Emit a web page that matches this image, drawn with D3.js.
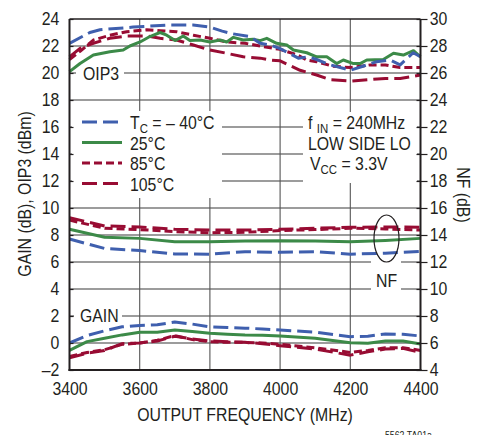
<!DOCTYPE html>
<html><head><meta charset="utf-8">
<script src="https://cdn.jsdelivr.net/npm/d3@7"></script>
<style>
html,body{margin:0;padding:0;background:#fff;}
svg text{font-family:"Liberation Sans",Arial,sans-serif;fill:#231f20;}
</style></head>
<body><svg id="c" width="482" height="435"></svg>
<script>
// ---- data ----
const xTicks = [3400, 3600, 3800, 4000, 4200, 4400];
const yLeftTicks = [-2, 0, 2, 4, 6, 8, 10, 12, 14, 16, 18, 20, 22, 24];
const yRightTicks = [4, 6, 8, 10, 12, 14, 16, 18, 20, 22, 24, 26, 28, 30];
const seriesNames = ["TC = \u2013 40°C", "25°C", "85°C", "105°C"];

// OIP3 (dBm, left axis)
const oip3FreqM40 = [3400,3458,3487,3581,3678,3752,3800,3835,3866,3914,3943,3972,4000,4052,4080,4104,4143,4200,4236,4275,4313,4342,4379,4400];
const oip3M40     = [22.2,23.0,23.2,23.4,23.55,23.55,23.4,23.1,22.9,22.7,22.2,22.07,21.8,21.1,21.2,21.0,20.6,20.2,20.5,20.84,20.96,20.6,21.5,21.2];
const oip3Freq25  = [3400,3430,3468,3515,3553,3572,3601,3629,3658,3677,3701,3724,3743,3772,3800,3829,3848,3867,3895,3923,3943,3962,3990,4019,4038,4076,4104,4133,4161,4180,4209,4228,4247,4294,4323,4351,4380,4400];
const oip325      = [20.1,20.7,21.33,21.58,21.7,22.0,22.3,22.7,23.0,22.8,22.4,22.74,22.4,22.44,22.3,22.44,22.3,22.64,22.44,22.5,22.4,22.57,22.2,22.07,21.7,21.5,21.2,21.2,20.7,20.96,20.7,20.7,20.96,21.0,21.46,21.33,21.65,21.2];
const oip3Freq85  = [3400,3430,3468,3515,3563,3620,3658,3705,3753,3800,3848,3900,3943,4000,4050,4076,4104,4150,4200,4257,4300,4342,4400];
const oip385      = [21.0,21.6,22.44,22.8,23.06,23.2,23.13,23.06,22.8,22.57,22.3,22.2,22.0,21.75,21.33,20.96,20.84,20.5,20.4,20.6,20.6,20.4,20.4];
const oip3Freq105 = [3400,3430,3468,3515,3563,3620,3658,3705,3753,3800,3848,3895,3943,3972,4000,4057,4104,4143,4200,4250,4300,4342,4400];
const oip3105     = [21.2,21.83,22.2,22.57,22.74,22.74,22.57,22.44,22.07,21.7,21.46,21.2,21.1,20.96,20.9,20.2,19.85,19.5,19.4,19.5,19.6,19.6,19.85];

// NF (dB, right axis)
const nfFreq = [3400,3500,3600,3700,3800,3900,4000,4100,4200,4300,4400];
const nfM40  = [13.7,13.0,12.85,12.6,12.58,12.76,12.72,12.76,12.58,12.65,12.78];
const nf25   = [14.42,13.83,13.75,13.5,13.5,13.55,13.58,13.55,13.5,13.6,13.75];
const nf85   = [15.1,14.5,14.4,14.25,14.17,14.2,14.33,14.4,14.5,14.45,14.37];
const nf105  = [15.28,14.67,14.6,14.42,14.37,14.37,14.42,14.5,14.57,14.6,14.57];

// Gain (dB, left axis)
const gainFreq = [3400,3450,3500,3550,3600,3650,3700,3750,3800,3850,3900,3950,4000,4100,4200,4250,4300,4350,4400];
const gainM40  = [0.0,0.55,0.9,1.2,1.3,1.35,1.55,1.4,1.2,1.15,1.1,1.04,0.96,0.8,0.47,0.5,0.67,0.64,0.52];
const gain25   = [-0.55,0.1,0.35,0.6,0.8,0.8,0.96,0.85,0.72,0.65,0.6,0.58,0.52,0.35,0.02,-0.02,0.15,0.15,-0.08];
const gain85   = [-1.0,-0.7,-0.5,-0.1,0.0,0.2,0.55,0.25,0.1,0.05,0.05,0.0,-0.1,-0.35,-0.7,-0.55,-0.35,-0.35,-0.55];
const gain105  = [-1.1,-0.75,-0.55,-0.05,0.0,0.15,0.5,0.3,0.15,0.1,0.05,-0.05,-0.2,-0.45,-0.9,-0.65,-0.45,-0.4,-0.7];

// ---- layout ----
const SX = 0.88; // horizontal condensing of the Helvetica-like font
const svg = d3.select("#c");
const L = 69.5, R = 420.5, T = 19, B = 370;
const x = d3.scaleLinear().domain([3400, 4400]).range([L, R]);
const y = d3.scaleLinear().domain([-2, 24]).range([B, T]);
const y2 = d3.scaleLinear().domain([4, 30]).range([B, T]);

const styles = [
  {color:"#3f5fae", dash:"15,6"},
  {color:"#3c8a48", dash:null},
  {color:"#980c33", dash:"8,4"},
  {color:"#980c33", dash:"15,6"}
];

function txt(parent, px, py, size, extra) {
  return parent.append("text")
    .attr("transform", `translate(${px},${py}) ${extra || ""} scale(${SX},1)`)
    .attr("font-size", size);
}

// gridlines
const g = svg.append("g");
g.selectAll("line.h").data(yLeftTicks.filter(v => v > -2 && v < 24)).join("line")
  .attr("x1", L).attr("x2", R).attr("y1", d => y(d)).attr("y2", d => y(d))
  .attr("stroke", "#3a3a3a").attr("stroke-width", 1.1);
g.selectAll("line.v").data(xTicks.filter(v => v > 3400 && v < 4400)).join("line")
  .attr("x1", d => x(d)).attr("x2", d => x(d)).attr("y1", T).attr("y2", B)
  .attr("stroke", "#555").attr("stroke-width", 1.1);

// white masks behind labels
const masks = [
  [72, 111, 150, 87],   // legend
  [303, 112, 114, 71],  // conditions
  [76, 64, 48, 18],     // OIP3
  [74, 306, 48, 18],    // GAIN
  [371, 256, 30, 38]    // NF label
];
svg.append("g").selectAll("rect").data(masks).join("rect")
  .attr("x", d => d[0]).attr("y", d => d[1]).attr("width", d => d[2]).attr("height", d => d[3])
  .attr("fill", "#fff");

// curves
const lineL = d3.line().x(d => x(d[0])).y(d => y(d[1]));
const lineR = d3.line().x(d => x(d[0])).y(d => y2(d[1]));
const zip = (a, b) => a.map((v, i) => [v, b[i]]);
const curves = [
  {d: zip(gainFreq, gain105), s: 3, r: false},
  {d: zip(gainFreq, gain85), s: 2, r: false},
  {d: zip(gainFreq, gain25), s: 1, r: false},
  {d: zip(gainFreq, gainM40), s: 0, r: false},
  {d: zip(nfFreq, nf105), s: 3, r: true},
  {d: zip(nfFreq, nf85), s: 2, r: true},
  {d: zip(nfFreq, nf25), s: 1, r: true},
  {d: zip(nfFreq, nfM40), s: 0, r: true},
  {d: zip(oip3Freq105, oip3105), s: 3, r: false},
  {d: zip(oip3Freq85, oip385), s: 2, r: false},
  {d: zip(oip3Freq25, oip325), s: 1, r: false},
  {d: zip(oip3FreqM40, oip3M40), s: 0, r: false}
];
const cg = svg.append("g");
curves.forEach(c => {
  cg.append("path").attr("d", (c.r ? lineR : lineL)(c.d))
    .attr("fill", "none").attr("stroke", styles[c.s].color).attr("stroke-width", 3)
    .attr("stroke-dasharray", styles[c.s].dash).attr("stroke-linejoin", "round");
});

// frame
svg.append("line").attr("x1", L).attr("x2", R).attr("y1", T).attr("y2", T).attr("stroke", "#231f20").attr("stroke-width", 1.5);
svg.append("line").attr("x1", L).attr("x2", L).attr("y1", T).attr("y2", B+1).attr("stroke", "#231f20").attr("stroke-width", 2);
svg.append("line").attr("x1", R).attr("x2", R).attr("y1", T).attr("y2", B+1).attr("stroke", "#231f20").attr("stroke-width", 2);
svg.append("line").attr("x1", L-1).attr("x2", R+1).attr("y1", B).attr("y2", B).attr("stroke", "#231f20").attr("stroke-width", 2);

// left axis
const axL = svg.append("g").attr("transform", `translate(${L},0)`)
  .call(d3.axisLeft(y).tickValues(yLeftTicks).tickSize(-4).tickPadding(11.5).tickFormat(d => d < 0 ? "\u2013" + Math.abs(d) : d));
axL.select(".domain").remove();
axL.selectAll("line").attr("stroke", "#231f20").attr("stroke-width", 1.2);
axL.selectAll("text").attr("font-size", 18).attr("fill", "#231f20").attr("transform", `scale(${SX},1)`);

// right axis
const axR = svg.append("g").attr("transform", `translate(${R},0)`)
  .call(d3.axisRight(y2).tickValues(yRightTicks).tickSize(7).tickPadding(3.5));
axR.select(".domain").remove();
axR.selectAll("line").attr("stroke", "#231f20").attr("stroke-width", 1.2).attr("x1", -4);
axR.selectAll("text").attr("font-size", 18).attr("fill", "#231f20").attr("transform", `scale(${SX},1)`);

// bottom axis
const axB = svg.append("g").attr("transform", `translate(0,${B})`)
  .call(d3.axisBottom(x).tickValues(xTicks).tickSize(0).tickPadding(12).tickFormat(d3.format("d")));
axB.select(".domain").remove();
axB.selectAll("text").attr("font-size", 18).attr("fill", "#231f20").attr("transform", `scale(${SX},1)`)
  .attr("x", d => 0);

// axis titles
txt(svg, 245, 421, 18).attr("text-anchor", "middle").text("OUTPUT FREQUENCY (MHz)");
txt(svg, 31, 194, 18, "rotate(-90)").attr("text-anchor", "middle").text("GAIN (dB), OIP3 (dBm)");
txt(svg, 457, 195, 18, "rotate(90)").attr("text-anchor", "middle").text("NF (dB)");

// curve labels
txt(svg, 83, 79.5, 18).text("OIP3");
txt(svg, 80, 321.5, 18).text("GAIN");
txt(svg, 386.5, 287, 18).attr("text-anchor", "middle").text("NF");
svg.append("ellipse").attr("cx", 386.5).attr("cy", 238.5).attr("rx", 12.5).attr("ry", 23.5)
  .attr("fill", "none").attr("stroke", "#231f20").attr("stroke-width", 1.2);

// legend
const legY = [122, 142.5, 163, 183.5];
const lg = svg.append("g");
seriesNames.forEach((n, i) => {
  lg.append("line").attr("x1", 82).attr("x2", 122).attr("y1", legY[i]).attr("y2", legY[i])
    .attr("stroke", styles[i].color).attr("stroke-width", 3).attr("stroke-dasharray", styles[i].dash);
  const t = txt(lg, 130, legY[i] + 7, 18);
  if (i === 0) {
    t.append("tspan").text("T");
    t.append("tspan").attr("font-size", 13).attr("dy", 4).text("C");
    t.append("tspan").attr("dy", -4).text(" = \u2013 40°C");
  } else t.text(n);
});

// conditions
const ct = svg.append("g");
const c1 = txt(ct, 308, 129, 18);
c1.append("tspan").text("f ");
c1.append("tspan").attr("font-size", 13).attr("dy", 4).text("IN");
c1.append("tspan").attr("dy", -4).text(" = 240MHz");
txt(ct, 308, 149.5, 18).text("LOW SIDE LO");
const c3 = txt(ct, 310, 170, 18);
c3.append("tspan").text("V");
c3.append("tspan").attr("font-size", 13).attr("dy", 4).text("CC");
c3.append("tspan").attr("dy", -4).text(" = 3.3V");

txt(svg, 432, 439, 10).attr("text-anchor", "end").text("5562 TA01a");
</script></body></html>
